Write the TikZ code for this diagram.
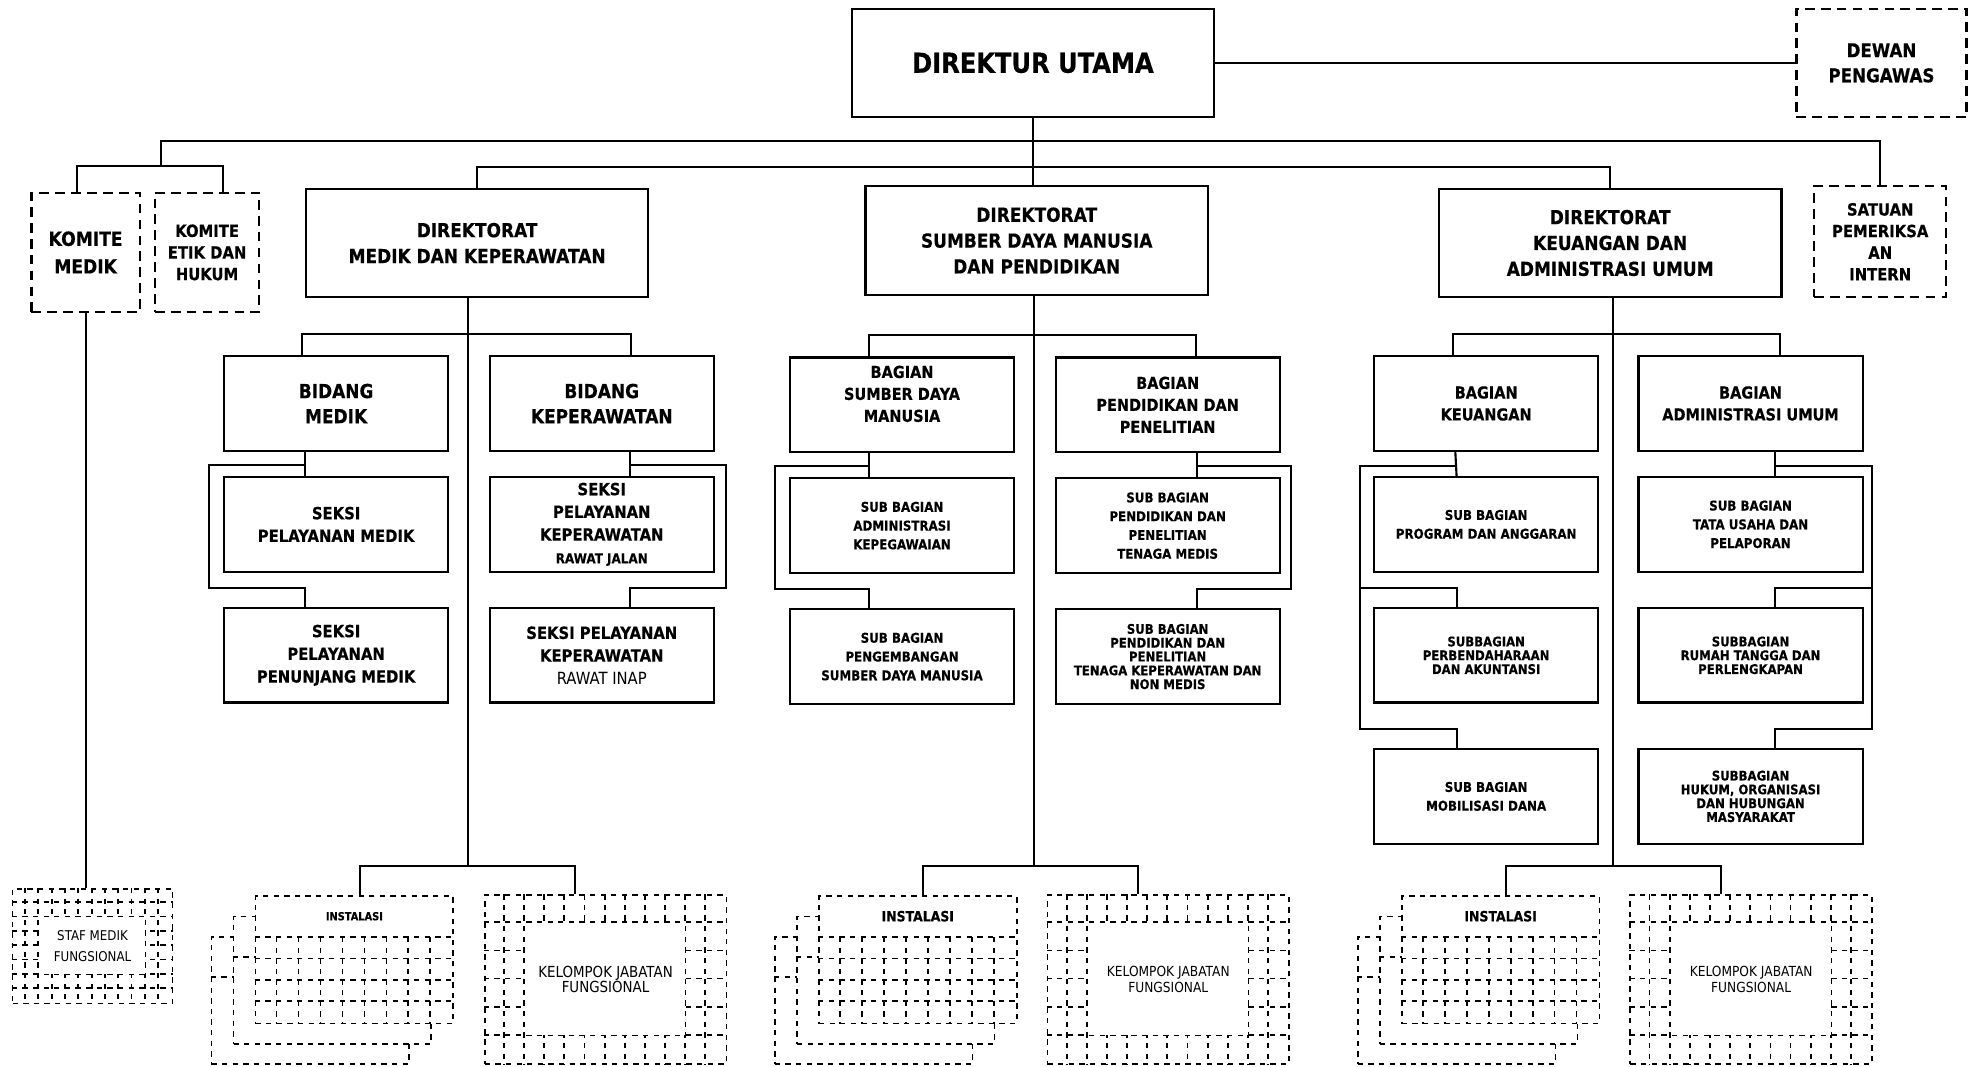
\documentclass[tikz,border=0pt]{standalone}
\usepackage{fontspec}
\setmainfont{DejaVu Sans}[FakeStretch=0.88, BoldFeatures={FakeBold=0.4}]
\usetikzlibrary{calc}
\tikzstyle{link} = [line width=1.2pt]
\tikzstyle{chief} = [rectangle, draw=black, line width=1.2pt, inner sep=0pt, align=center, minimum width=7.175cm, minimum height=2.15cm, font=\fontsize{15.5}{18}\selectfont\bfseries]
\tikzstyle{adhoc} = [rectangle, draw=black, line width=1.2pt, dash pattern=on 5.5pt off 3.5pt, inner sep=0pt, align=center, font=\fontsize{9.5}{12.2}\selectfont\bfseries]
\tikzstyle{dirbox} = [rectangle, draw=black, line width=1.2pt, inner sep=0pt, align=center, minimum width=6.8cm, minimum height=2.15cm, font=\fontsize{10.9}{14.6}\selectfont\bfseries]
\tikzstyle{unitbox} = [rectangle, draw=black, line width=1.2pt, inner sep=0pt, align=center, minimum width=4.45cm, minimum height=1.875cm]
\tikzstyle{bidbox} = [unitbox, font=\fontsize{10.9}{14.2}\selectfont\bfseries]
\tikzstyle{seksibox} = [unitbox, font=\fontsize{9.5}{12.8}\selectfont\bfseries]
\tikzstyle{bagbox} = [unitbox, font=\fontsize{9.3}{12.4}\selectfont\bfseries]
\tikzstyle{subbox} = [unitbox, font=\fontsize{7.6}{10.6}\selectfont\bfseries]
\tikzstyle{subtight} = [unitbox, font=\fontsize{7.5}{7.8}\selectfont\bfseries]
\tikzstyle{patline} = [line width=1pt, dash pattern=on 3pt off 3pt]
\tikzstyle{sheet} = [rectangle, draw=black, fill=white, patline, inner sep=0pt, minimum width=3.925cm, minimum height=2.525cm]
\tikzstyle{kjfbox} = [rectangle, draw=black, fill=white, patline, inner sep=0pt, minimum width=4.8cm, minimum height=3.35cm]
\tikzstyle{stafbox} = [rectangle, draw=black, fill=white, patline, inner sep=0pt, minimum width=3.175cm, minimum height=2.275cm]
\tikzstyle{hole} = [rectangle, fill=white, inner sep=0pt, align=center]

\begin{document}
\begin{tikzpicture}[x=0.025cm, y=-0.025cm, node distance=2.4cm]
  \useasboundingbox (0,0) rectangle (1568,847);

  % top level
  \node (du) [chief] at (820.5,50) {DIREKTUR UTAMA};
  \node (dewan) [adhoc, minimum width=3.375cm, minimum height=2.15cm, font=\fontsize{10.7}{14.2}\selectfont\bfseries] at (1494.5,50) {DEWAN\\PENGAWAS};
  \node (komed) [adhoc, minimum width=2.15cm, minimum height=2.375cm, font=\fontsize{11}{15.6}\selectfont\bfseries] at (68,200.5) {KOMITE\\MEDIK};
  \node (koetik) [adhoc, minimum width=2.075cm, minimum height=2.375cm] at (164.5,200.5) {KOMITE\\ETIK DAN\\HUKUM};
  \node (spi) [adhoc, minimum width=2.625cm, minimum height=2.2cm] at (1493.5,192) {SATUAN\\PEMERIKSA\\AN\\INTERN};
  \node (dirmed) [dirbox] at (379,193) {DIREKTORAT\\MEDIK DAN KEPERAWATAN};
  \node (dirsdm) [dirbox] at (823.5,191) {DIREKTORAT\\SUMBER DAYA MANUSIA\\DAN PENDIDIKAN};
  \node (dirkeu) [dirbox] at (1279,193) {DIREKTORAT\\KEUANGAN DAN\\ADMINISTRASI UMUM};

  % medik dan keperawatan
  \node (bidmed) [bidbox] at (267,320.5) {BIDANG\\MEDIK};
  \node (bidkep) [bidbox] at (478,320.5) {BIDANG\\KEPERAWATAN};
  \node (seksmed) [seksibox, below of=bidmed] {SEKSI\\PELAYANAN MEDIK};
  \node (sekspen) [seksibox, below of=seksmed, yshift=-0.2cm] {SEKSI\\PELAYANAN\\PENUNJANG MEDIK};
  \node (seksrj) [seksibox, below of=bidkep] {SEKSI\\PELAYANAN\\KEPERAWATAN\\{\fontsize{7.7}{10}\selectfont RAWAT JALAN}};
  \node (seksri) [seksibox, below of=seksrj, yshift=-0.2cm] {SEKSI PELAYANAN\\KEPERAWATAN\\{\mdseries RAWAT INAP}};

  % sdm dan pendidikan
  \node (bagsdm) [bagbox] at (716.5,321.5) {BAGIAN\\SUMBER DAYA\\MANUSIA\\\phantom{M}};
  \node (bagdik) [bagbox] at (927.5,321.5) {BAGIAN\\PENDIDIKAN DAN\\PENELITIAN};
  \node (sbpeg) [subbox, below of=bagsdm] {SUB BAGIAN\\ADMINISTRASI\\KEPEGAWAIAN};
  \node (sbpsdm) [subbox, below of=sbpeg, yshift=-0.2cm] {SUB BAGIAN\\PENGEMBANGAN\\SUMBER DAYA MANUSIA};
  \node (sbmedis) [subbox, below of=bagdik] {SUB BAGIAN\\PENDIDIKAN DAN\\PENELITIAN\\TENAGA MEDIS};
  \node (sbnonmed) [subtight, below of=sbmedis, yshift=-0.2cm] {SUB BAGIAN\\PENDIDIKAN DAN\\PENELITIAN\\TENAGA KEPERAWATAN DAN\\NON MEDIS};

  % keuangan dan administrasi umum
  \node (bagkeu) [bagbox] at (1180.5,320.5) {BAGIAN\\KEUANGAN};
  \node (bagadm) [bagbox] at (1390.5,320.5) {BAGIAN\\ADMINISTRASI UMUM};
  \node (sbprog) [subbox, below of=bagkeu] {SUB BAGIAN\\PROGRAM DAN ANGGARAN};
  \node (sbbend) [subtight, below of=sbprog, yshift=-0.2cm] {SUBBAGIAN\\PERBENDAHARAAN\\DAN AKUNTANSI};
  \node (sbdana) [subbox, below of=sbbend, yshift=-0.4cm] {SUB BAGIAN\\MOBILISASI DANA};
  \node (sbtu) [subbox, below of=bagadm] {SUB BAGIAN\\TATA USAHA DAN\\PELAPORAN};
  \node (sbrt) [subtight, below of=sbtu, yshift=-0.2cm] {SUBBAGIAN\\RUMAH TANGGA DAN\\PERLENGKAPAN};
  \node (sbhukum) [subtight, below of=sbrt, yshift=-0.4cm] {SUBBAGIAN\\HUKUM, ORGANISASI\\DAN HUBUNGAN\\MASYARAKAT};

  % staf medik fungsional
  \node (staf) [stafbox] at (73.5,751.5) {};
  \foreach \k in {1,...,11}
    \draw[patline] ($(staf.north west)+(\k*10.583,0)$) -- ($(staf.south west)+(\k*10.583,0)$);
  \foreach \k in {1,...,7}
    \draw[patline] ($(staf.north west)+(0,\k*11.375)$) -- ($(staf.north east)+(0,\k*11.375)$);
  \node (stafin) [hole, minimum width=2.09cm, minimum height=1.11cm, font=\fontsize{7.6}{11.4}\selectfont] at (staf) {STAF MEDIK\\FUNGSIONAL};

  \coordinate (topbus) at (820.5,112);
  \coordinate (kombus) at (128,132);
  \coordinate (dirbus) at (820.5,133);
  \coordinate (medbus) at (372,265);
  \coordinate (medhub) at (372,688);
  \coordinate (sdmbus) at (821,266);
  \coordinate (sdmhub) at (821,688);
  \coordinate (keubus) at (1281,265);
  \coordinate (keuhub) at (1281,688);

  \draw [link] (du.east) -- (dewan.west);
  \draw [link] (du.south) -- (du.south |- dirsdm.north);
  \draw [link] (kombus) |- (topbus) -| (spi.north);
  \draw [link] ($(komed.north)+(-7,0)$) |- (kombus) -| ($(koetik.north)+(12.5,0)$);
  \draw [link] (dirmed.north) |- (dirbus) -| (dirkeu.north);
  \draw [link] (komed.south) -- (komed.south |- staf.north);

  \draw [link] (dirmed.south -| medhub) -- (medhub);
  \draw [link] ($(bidmed.north)+(-27,0)$) |- (medbus) -| ($(bidkep.north)+(23,0)$);
  \draw [link] ($(bidmed.south)+(-25,0)$) -- ($(seksmed.north)+(-25,0)$);
  \draw [link] ($(bidmed.south)+(-25,10.5)$) -- ++(-76,0) |- ($(sekspen.north)+(-25,-15)$) -- ($(sekspen.north)+(-25,0)$);
  \draw [link] ($(bidkep.south)+(22.5,0)$) -- ($(seksrj.north)+(22.5,0)$);
  \draw [link] ($(bidkep.south)+(22.5,10.5)$) -- ++(76,0) |- ($(seksri.north)+(22.5,-15)$) -- ($(seksri.north)+(22.5,0)$);

  \draw [link] (dirsdm.south -| sdmhub) -- (sdmhub);
  \draw [link] ($(bagsdm.north)+(-26.5,0)$) |- (sdmbus) -| ($(bagdik.north)+(22.5,0)$);
  \draw [link] ($(bagsdm.south)+(-26,0)$) -- ($(sbpeg.north)+(-26,0)$);
  \draw [link] ($(bagsdm.south)+(-26,10)$) -- ++(-75,0) |- ($(sbpsdm.north)+(-26,-15)$) -- ($(sbpsdm.north)+(-26,0)$);
  \draw [link] ($(bagdik.south)+(23,0)$) -- ($(sbmedis.north)+(23,0)$);
  \draw [link] ($(bagdik.south)+(23,10)$) -- ++(75,0) |- ($(sbnonmed.north)+(23,-15)$) -- ($(sbnonmed.north)+(23,0)$);

  \draw [link] (dirkeu.south -| keuhub) -- (keuhub);
  \draw [link] ($(bagkeu.north)+(-26.5,0)$) |- (keubus) -| ($(bagadm.north)+(23.5,0)$);
  \draw [link] ($(bagkeu.south)+(-24.5,0)$) -- ($(sbprog.north)+(-23.5,0)$);
  \draw [link] ($(bagkeu.south)+(-24.5,11)$) -- ++(-76,0) |- ($(sbdana.north)+(-23.5,-15)$) -- ($(sbdana.north)+(-23.5,0)$);
  \draw [link] ($(sbbend.north)+(-99.5,-15)$) -| ($(sbbend.north)+(-23.5,0)$);
  \draw [link] ($(bagadm.south)+(19.5,0)$) -- ($(sbtu.north)+(19.5,0)$);
  \draw [link] ($(bagadm.south)+(19.5,11)$) -- ++(77,0) |- ($(sbhukum.north)+(19.5,-15)$) -- ($(sbhukum.north)+(19.5,0)$);
  \draw [link] ($(sbrt.north)+(96.5,-15)$) -| ($(sbrt.north)+(19.5,0)$);

  % instalasi and kelompok jabatan fungsional
  \foreach \n/\ix/\kx/\hub/\isz/\ksz in {1/281.5/481/medhub/6.3/8.6, 2/729/928/sdmhub/8/7.85, 3/1192/1391/keuhub/8/7.85} {
    \node (instc\n) [sheet] at (\ix-35,794.5) {};
    \draw[patline] ($(instc\n.north west)+(0,33)$) -- ($(instc\n.north east)+(0,33)$);
    \node (instb\n) [sheet] at (\ix-17.5,778.5) {};
    \draw[patline] ($(instb\n.north west)+(0,33)$) -- ($(instb\n.north east)+(0,33)$);
    \node (inst\n) [sheet] at (\ix,762.5) {};
    \draw[patline] ($(inst\n.north west)+(0,33)$) -- ($(inst\n.north east)+(0,33)$);
    \foreach \k in {1,...,8}
      \draw[patline] ($(inst\n.north west)+(\k*17.44,33)$) -- ($(inst\n.south west)+(\k*17.44,0)$);
    \foreach \k in {1,2,3}
      \draw[patline] ($(inst\n.north west)+(0,33+\k*17)$) -- ($(inst\n.north east)+(0,33+\k*17)$);
    \node (instlbl\n) [font=\fontsize{\isz}{\isz}\selectfont\bfseries] at ($(inst\n.north)+(0,16.5)$) {INSTALASI};
    \node (kjf\n) [kjfbox] at (\kx,778) {};
    \foreach \k in {1,...,11}
      \draw[patline] ($(kjf\n.north west)+(\k*16,0)$) -- ($(kjf\n.south west)+(\k*16,0)$);
    \foreach \k in {1,...,5}
      \draw[patline] ($(kjf\n.north west)+(0,\k*22.33)$) -- ($(kjf\n.north east)+(0,\k*22.33)$);
    \node (kjfin\n) [hole, minimum width=3.17cm, minimum height=2.2cm, font=\fontsize{\ksz}{8.5}\selectfont] at (kjf\n) {KELOMPOK JABATAN\\FUNGSIONAL};
    \draw [link] ($(inst\n.north)+(4.5,0)$) |- (\hub) -| ($(kjf\n.north)+(-24,0)$);
  }
\end{tikzpicture}
\end{document}
